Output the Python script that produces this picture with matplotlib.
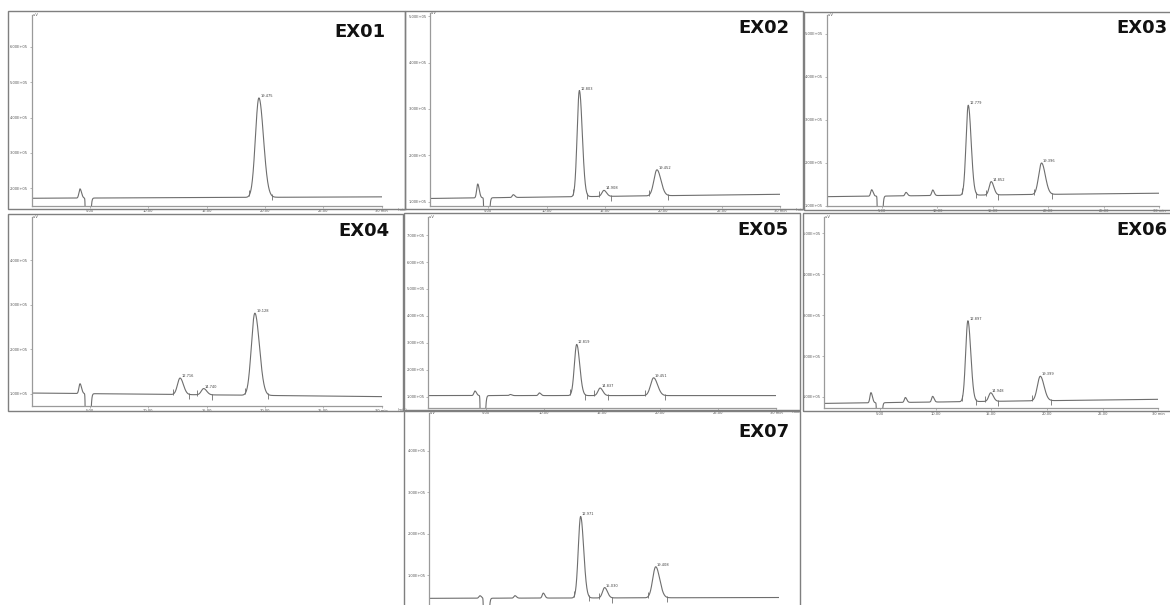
import numpy as np
import matplotlib
matplotlib.use("Agg")
import matplotlib.pyplot as plt
from matplotlib.patches import Rectangle
from matplotlib.ticker import FuncFormatter
import matplotlib.transforms as mtransforms

# ---- data (time in min, signal in tick units) ----
panel_names = ["EX01", "EX02", "EX03", "EX04", "EX05", "EX06", "EX07"]

peak_rt = [[19.475],
           [12.803, 14.908, 19.452],
           [12.779, 14.852, 19.396],
           [12.716, 14.740, 19.128],
           [12.819, 14.837, 19.451],
           [12.897, 14.948, 19.399],
           [12.971, 15.030, 19.408]]
peak_height = [[2.81],
               [2.29, 0.13, 0.56],
               [2.09, 0.31, 0.73],
               [0.37, 0.14, 1.84],
               [1.90, 0.28, 0.66],
               [1.98, 0.21, 0.60],
               [1.97, 0.25, 0.75]]
peak_sigma = [[0.30],
              [0.19, 0.17, 0.26],
              [0.20, 0.18, 0.26],
              [0.22, 0.20, 0.30],
              [0.20, 0.18, 0.26],
              [0.20, 0.18, 0.26],
              [0.20, 0.18, 0.26]]

# small unlabelled bumps (solvent front first)
bump_rt = [[4.14], [4.09, 7.14], [4.06, 7.16, 9.57], [4.14],
           [4.05, 7.10, 9.60], [4.19, 7.28, 9.73], [4.34, 7.34, 9.77]]
bump_height = [[0.26], [0.30, 0.06], [0.15, 0.08, 0.13], [0.22],
               [0.17, 0.04, 0.10], [0.25, 0.12, 0.14], [0.06, 0.06, 0.12]]
dip_rt = [4.70, 4.72, 4.68, 4.70, 4.60, 4.80, 4.75]

baseline_start = [0.72, 0.07, 0.21, 0.02, 0.04, -0.16, -0.56]
baseline_end = [0.76, 0.16, 0.29, -0.06, 0.04, -0.06, -0.54]

y_ticks = [[1, 2, 3, 4, 5], [0, 1, 2, 3, 4], [0, 1, 2, 3, 4], [0, 1, 2, 3],
           [0, 1, 2, 3, 4, 5, 6], [0, 1, 2, 3, 4], [0, 1, 2, 3]]
y_limits = [(0.51, 5.9), (-0.086, 4.07), (0.0, 4.43), (-0.27, 3.97),
            (-0.41, 6.66), (-0.28, 4.41), (-0.89, 3.91)]
x_ticks = [5, 10, 15, 20, 25, 30]
x_tick_labels = ["5.00", "10.00", "15.00", "20.00", "25.00", "30 min"]

# ---- layout in pixels: frame box, axes box (left, top, right, bottom), title anchor ----
W, H = 1170, 605
frames = [(8, 11, 405, 209), (405, 11, 803, 209), (804, 12, 1175, 210),
          (8, 214, 403, 411), (404, 213, 800, 410), (803, 213, 1175, 411),
          (404, 411, 800, 640)]
axes_px = [(31.7, 15, 381.7, 205.7), (430, 13, 780, 205.7), (826.7, 15, 1159, 205.7),
           (31.7, 216.7, 381.7, 406), (428, 217.3, 776, 407.7), (824.3, 216.7, 1158.3, 408.3),
           (429.3, 413.3, 779.3, 612)]
title_px = [(386, 32), (789, 28), (1167, 28), (389, 231), (788, 230), (1167, 230), (790, 432)]

line_col = "#6e6e6e"
axis_col = "#9a9a9a"


def asym_gauss(t, c, h, sl, sr):
    s = np.where(t < c, sl, sr)
    return h * np.exp(-0.5 * ((t - c) / s) ** 2)


fig = plt.figure(figsize=(W / 100, H / 100), dpi=100)
fig.patch.set_facecolor("white")

t = np.linspace(0, 30, 4000)

for i, name in enumerate(panel_names):
    fx0, fy0, fx1, fy1 = frames[i]
    fig.add_artist(Rectangle((fx0 / W, 1 - fy1 / H), (fx1 - fx0) / W, (fy1 - fy0) / H,
                             transform=fig.transFigure, fill=False,
                             edgecolor="#7f7f7f", lw=1.0))

    l, tp, r, b = axes_px[i]
    ax = fig.add_axes([l / W, 1 - b / H, (r - l) / W, (b - tp) / H])
    ax.patch.set_alpha(0)

    # build the trace from the peak table
    base = baseline_start[i] + (baseline_end[i] - baseline_start[i]) * t / 30
    y = base.copy()
    for rt, hgt, sg in zip(peak_rt[i], peak_height[i], peak_sigma[i]):
        y += asym_gauss(t, rt, hgt, sg, sg * 1.3)
    for rt, hgt in zip(bump_rt[i], bump_height[i]):
        y += asym_gauss(t, rt, hgt, 0.09, 0.13)
    y += asym_gauss(t, dip_rt[i], -12, 0.045, 0.15)
    ax.plot(t, y, color=line_col, lw=0.8)

    ax.set_xlim(0, 30)
    ax.set_ylim(*y_limits[i])

    # peak labels and integration marks
    up = mtransforms.offset_copy(ax.transData, fig=fig, x=0, y=2, units="dots")
    down = mtransforms.offset_copy(ax.transData, fig=fig, x=0, y=-2, units="dots")
    for rt, hgt, sg in zip(peak_rt[i], peak_height[i], peak_sigma[i]):
        bl = baseline_start[i] + (baseline_end[i] - baseline_start[i]) * rt / 30
        ax.text(rt + 0.12, bl + hgt, f"{rt:.3f}", fontsize=2.6, color="#444444",
                ha="left", va="bottom")
        ts, te = rt - 2.7 * sg, rt + 2.8 * 1.3 * sg
        ys = np.interp(ts, t, y)
        ye = np.interp(te, t, y)
        ax.plot([ts], [ys], marker="|", ms=4, mew=0.6, color=line_col, transform=up)
        ax.plot([te], [ye], marker="|", ms=5, mew=0.6, color=line_col, transform=down)

    for side in ["top", "right"]:
        ax.spines[side].set_visible(False)
    for side in ["left", "bottom"]:
        ax.spines[side].set_color(axis_col)
        ax.spines[side].set_linewidth(0.9)

    ax.set_xticks(x_ticks)
    ax.set_yticks(y_ticks[i])
    ax.yaxis.set_major_formatter(FuncFormatter(lambda v, p: f"{(v + 1) * 1e5:.2E}"))
    ax.tick_params(axis="both", length=1.5, width=0.5, color=axis_col,
                   labelsize=2.6, labelcolor="#555555", pad=1)

    if b < H - 8:
        ax.set_xticklabels(x_tick_labels)
        # unit note past the end of the time axis, only where it fits in the picture
        if r + 24 < W:
            ax.text(1.045, -0.012, "(min)", transform=ax.transAxes, fontsize=2.6,
                    color="#555555", ha="left", va="top")
    else:
        ax.set_xticklabels([])
    ax.text(0.0, 1.0, " uV", transform=ax.transAxes, fontsize=2.6,
            color="#555555", ha="left", va="center")

    tx, ty = title_px[i]
    fig.text(tx / W, 1 - ty / H, name, fontsize=13, fontweight="bold",
             color="#111111", ha="right", va="center", family="DejaVu Sans")

fig.savefig("out.png", dpi=100, facecolor="white")
